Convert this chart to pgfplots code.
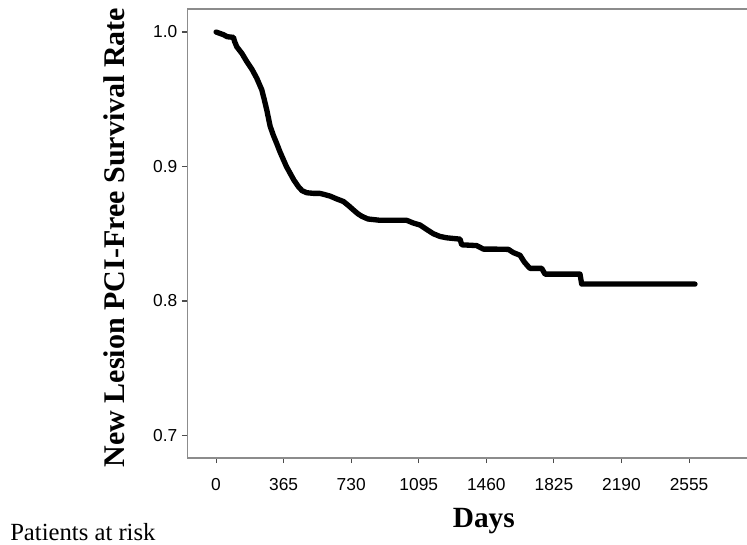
\documentclass[border=0pt]{standalone}
\usepackage{fontspec}
\setmainfont{Liberation Serif}
\newfontfamily\arial{Liberation Sans}
\usepackage{pgfplots}
\pgfplotsset{compat=1.18}

% KM curve
\pgfplotstableread{
day surv
0 1.000
20 0.999
40 0.998
60 0.9965
94 0.996
100 0.993
112 0.989
140 0.984
166 0.978
195 0.972
220 0.9656
247 0.957
260 0.950
274 0.942
292 0.930
310 0.923
328 0.917
345 0.911
364 0.905
380 0.900
400 0.895
420 0.890
445 0.885
465 0.882
490 0.8805
530 0.880
562 0.880
590 0.879
616 0.878
650 0.876
688 0.874
715 0.871
742 0.8677
765 0.865
787 0.863
820 0.861
886 0.860
960 0.860
1030 0.860
1065 0.858
1102 0.8565
1140 0.853
1174 0.850
1210 0.848
1246 0.847
1318 0.846
1327 0.8418
1408 0.8412
1444 0.8386
1500 0.8386
1579 0.8384
1606 0.836
1642 0.834
1665 0.829
1687 0.8255
1696 0.8243
1759 0.8243
1777 0.820
1966 0.820
1975 0.8126
2587 0.8126
}\kmdata

\begin{document}
\begin{tikzpicture}
\useasboundingbox (0,0) rectangle (560.25pt,408pt);
\begin{axis}[
  at={(140.25pt,64.5pt)}, anchor=south west,
  scale only axis,
  width=420pt, height=336.75pt,
  xmin=-157, xmax=2868,
  ymin=0.6833, ymax=1.0171,
  xtick={0,365,730,1095,1460,1825,2190,2555},
  ytick={0.7,0.8,0.9,1.0},
  tick pos=left,
  tick align=outside,
  major tick length=3.75pt,
  tick style={black!70, line width=0.8pt},
  axis line style={draw=none},
  /pgf/number format/assume math mode=true,
  xticklabel style={font=\arial\fontsize{13}{13}\selectfont, yshift=-8pt},
  yticklabel style={font=\arial\fontsize{13}{13}\selectfont},
  xticklabel={\pgfmathprintnumber[1000 sep={}]{\tick}},
  yticklabel={\pgfmathprintnumber[fixed,fixed zerofill,precision=1]{\tick}},
  xlabel={Days},
  xlabel style={font=\bfseries\fontsize{22}{22}\selectfont,
    at={(rel axis cs:0.530,0)}, anchor=base, yshift=-51.75pt},
  ylabel={New Lesion PCI-Free Survival Rate},
  ylabel style={font=\bfseries\fontsize{22.5}{22.5}\selectfont,
    at={([xshift=-46.5pt,yshift=-3pt]rel axis cs:0,0.5)}, anchor=base},
]
\draw[black!45, line width=0.9pt] (rel axis cs:1,1) -- (rel axis cs:0,1) -- (rel axis cs:0,0) -- (rel axis cs:1,0);
\addplot[black, line width=4pt, line join=round, line cap=round] table[x=day,y=surv] {\kmdata};
\end{axis}
\node[anchor=base west, inner sep=0pt, font=\fontsize{18.5}{18.5}\selectfont] at (7.5pt,3pt) {Patients at risk};
\end{tikzpicture}
\end{document}
